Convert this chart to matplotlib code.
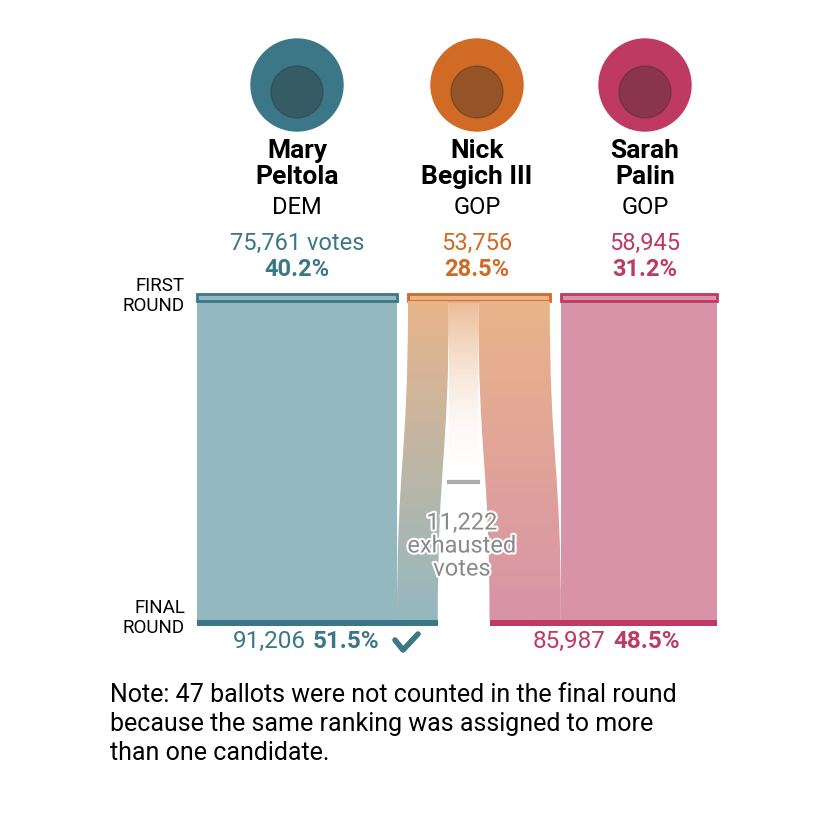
import numpy as np
import matplotlib
matplotlib.use("Agg")
import matplotlib.pyplot as plt
from matplotlib.path import Path
from matplotlib.patches import PathPatch, Circle, Rectangle
import matplotlib.patheffects as pe

plt.rcParams['font.family'] = ['Roboto', 'DejaVu Sans']

# data
names = ["Mary\nPeltola", "Nick\nBegich III", "Sarah\nPalin"]
parties = ["DEM", "GOP", "GOP"]
first_votes = [75761, 53756, 58945]
first_labels = ["75,761 votes", "53,756", "58,945"]
first_pct = ["40.2%", "28.5%", "31.2%"]
final_votes = [91206, 85987]
final_labels = ["91,206", "85,987"]
final_pct = ["51.5%", "48.5%"]
exhausted = 11222
to_peltola = final_votes[0] - first_votes[0]
to_palin = final_votes[1] - first_votes[2]

dark = ["#3b7786", "#d06a24", "#bf3a62"]
light = ["#94b8c0", "#e9b48a", "#d893a8"]

fig = plt.figure(figsize=(8.28, 8.19), dpi=100)
ax = fig.add_axes([0, 0, 1, 1])
ax.set_xlim(0, 828)
ax.set_ylim(819, 0)
ax.axis('off')

k = 200 / first_votes[0]   # px per vote
x0 = 197
gap = 11
y_top, y_bot = 301, 620

# first round bars
xs = []
x = x0
for v in first_votes:
    xs.append(x)
    x += v * k + gap
centers = [297, 477, 645]

# main columns
ax.add_patch(Rectangle((xs[0], y_top), first_votes[0] * k, y_bot - y_top, color=light[0], lw=0))
ax.add_patch(Rectangle((xs[2], y_top), first_votes[2] * k, y_bot - y_top, color=light[2], lw=0))
for i in range(3):
    ax.add_patch(Rectangle((xs[i], y_top - 7), first_votes[i] * k, 7, facecolor=light[i],
                           edgecolor=dark[i], lw=2))

def flow(xa0, xa1, xb0, xb1, yb, c_top, c_bot, fade=False):
    ym = (y_top + yb) / 2
    verts = [(xa0, y_top), (xa0, ym), (xb0, ym), (xb0, yb),
             (xb1, yb), (xb1, ym), (xa1, ym), (xa1, y_top), (xa0, y_top)]
    codes = [Path.MOVETO, Path.CURVE4, Path.CURVE4, Path.CURVE4,
             Path.LINETO, Path.CURVE4, Path.CURVE4, Path.CURVE4, Path.CLOSEPOLY]
    patch = PathPatch(Path(verts, codes), facecolor='none', edgecolor='none')
    ax.add_patch(patch)
    t = np.linspace(0, 1, 200)[:, None]
    ct = np.array(matplotlib.colors.to_rgb(c_top))
    cb = np.array(matplotlib.colors.to_rgb(c_bot))
    img = ct * (1 - t) + cb * t
    img = np.concatenate([img, np.ones((200, 1))], axis=1)
    if fade:
        img[:, 3] = (1 - t[:, 0]) * 0.9
    img = img[:, None, :]
    im = ax.imshow(img, extent=[min(xa0, xb0), max(xa1, xb1), yb, y_top], aspect='auto', zorder=1)
    im.set_clip_path(patch)

b0 = xs[1]
flow(b0, b0 + to_peltola * k, xs[0] + first_votes[0] * k, xs[0] + final_votes[0] * k, y_bot,
     light[1], light[0])
ex0 = b0 + to_peltola * k
flow(ex0, ex0 + exhausted * k, ex0, ex0 + exhausted * k, 482, light[1], "#ffffff", fade=True)
ax.plot([ex0, ex0 + exhausted * k], [482, 482], color="#aaaaaa", lw=3, zorder=2)
pa0 = ex0 + exhausted * k
pal_end = xs[2] + first_votes[2] * k
flow(pa0, pa0 + to_palin * k, pal_end - final_votes[1] * k, xs[2], y_bot, light[1], light[2])

# final round bars
ax.add_patch(Rectangle((xs[0], y_bot), final_votes[0] * k, 6, color=dark[0], lw=0))
ax.add_patch(Rectangle((pal_end - final_votes[1] * k, y_bot), final_votes[1] * k, 6, color=dark[2], lw=0))

ax.text(462, 546, "11,222\nexhausted\nvotes", ha='center', va='center', fontsize=17,
        color="#8a8a8a", linespacing=1.0, zorder=5,
        path_effects=[pe.withStroke(linewidth=3, foreground='white')])

# headers
for i in range(3):
    c = centers[i]
    ax.add_patch(Circle((c, 85), 46, color=dark[i], zorder=3))
    ax.add_patch(Circle((c, 92), 26, color="#2a2a2a", alpha=0.35, zorder=4))
    ax.text(c, 164, names[i], ha='center', va='center', fontsize=19, fontweight='bold',
            linespacing=1.12)
    ax.text(c, 208, parties[i], ha='center', va='center', fontsize=17)
    ax.text(c, 243, first_labels[i], ha='center', va='center', fontsize=17, color=dark[i])
    ax.text(c, 270, first_pct[i], ha='center', va='center', fontsize=17, color=dark[i],
            fontweight='bold')

ax.text(185, 296, "FIRST\nROUND", ha='right', va='center', fontsize=13.5, linespacing=1.2)
ax.text(185, 618, "FINAL\nROUND", ha='right', va='center', fontsize=13.5, linespacing=1.2)

ax.text(306, 641, final_labels[0], ha='right', va='center', fontsize=17.5, color=dark[0])
ax.text(313, 641, final_pct[0], ha='left', va='center', fontsize=17.5, color=dark[0], fontweight='bold')
ax.plot([395, 403, 418], [640, 650, 634], color=dark[0], lw=4, solid_capstyle='round')
ax.text(605, 641, final_labels[1], ha='right', va='center', fontsize=17.5, color=dark[2])
ax.text(613, 641, final_pct[1], ha='left', va='center', fontsize=17.5, color=dark[2], fontweight='bold')

ax.text(110, 724, "Note: 47 ballots were not counted in the final round\n"
        "because the same ranking was assigned to more\nthan one candidate.",
        ha='left', va='center', fontsize=18, linespacing=1.28)

fig.savefig("out.png", dpi=100)
